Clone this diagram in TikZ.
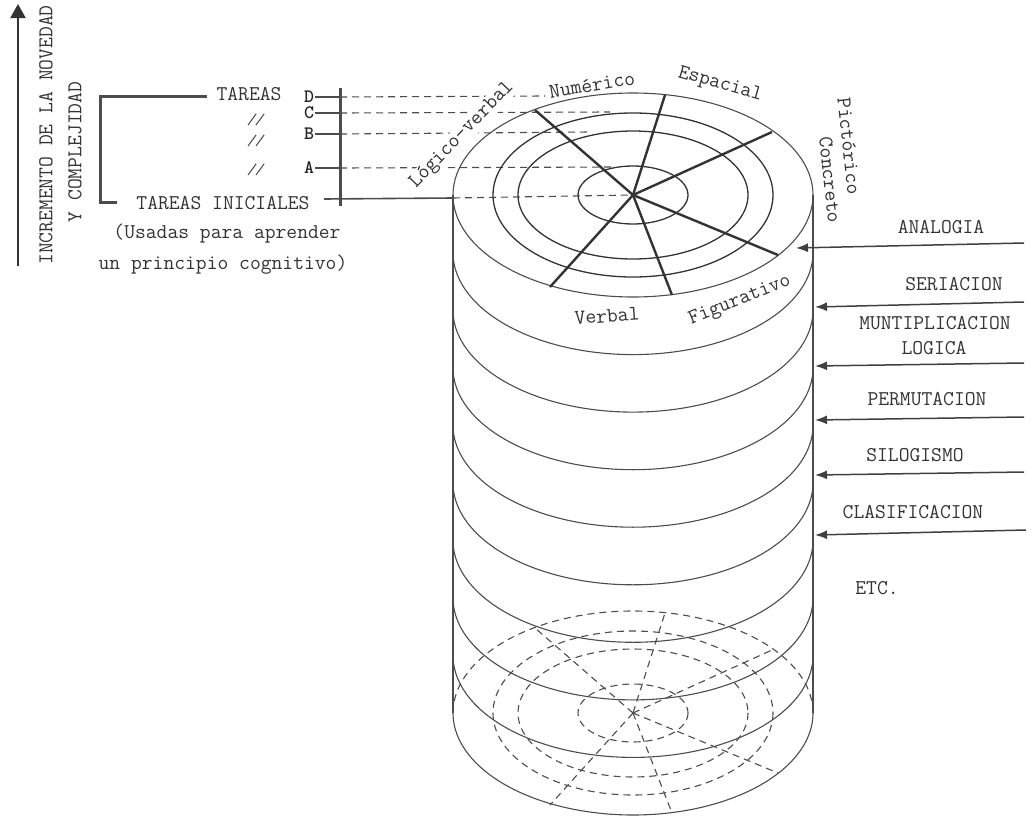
\documentclass[tikz,border=0pt]{standalone}
\usepackage{fontspec}
\usetikzlibrary{arrows.meta}
\begin{document}
\begin{tikzpicture}[x=1pt,y=-1pt,
  ln/.style={draw=black!70, line width=1.1pt},
  ring/.style={draw=black!80, line width=1.3pt},
  ray/.style={draw=black!80, line width=2.4pt},
  dsh/.style={draw=black!70, line width=1.1pt, dash pattern=on 7pt off 5pt},
  lbl/.style={font=\ttfamily\fontsize{21}{24}\selectfont, text=black!80, inner sep=1pt},
  let/.style={font=\ttfamily\bfseries\fontsize{19}{21}\selectfont, text=black!85, inner sep=1pt},
  dit/.style={font=\ttfamily\itshape\fontsize{15}{17}\selectfont, text=black!80, inner sep=1pt},
  arr/.style={draw=black!75, line width=1.5pt, -{Latex[length=12pt,width=9pt]}},
  bar/.style={draw=black!70, line width=3pt},
]
\useasboundingbox (0,0) rectangle (1031,822);

% ---- left axis ----
\coordinate (axB) at (18,266);
\coordinate (axT) at (18,4);
\draw[draw=black!80, line width=2pt, -{Triangle[length=14pt,width=15pt]}] (axB) -- (axT);
\node[lbl, rotate=90] (inc) at (46,135) {INCREMENTO DE LA NOVEDAD};
\node[lbl, rotate=90] (comp) at (75,152) {Y COMPLEJIDAD};

% ---- bracket and task labels ----
\node[lbl] (tareas) at (249,94) {TAREAS};
\node[lbl] (tini) at (223,203) {TAREAS INICIALES};
\node[lbl] (usadas) at (227,234) {(Usadas para aprender};
\node[lbl] (princ) at (223,265) {un principio cognitivo)};
\coordinate (brTR) at (207,96);
\coordinate (brTL) at (100,96);
\coordinate (brBL) at (100,202);
\coordinate (brBR) at (117,202);
\draw[bar] (brTR) -- (brTL) -- (brBL) -- (brBR);

\node[dit] (d1) at (255,120) {//};
\node[dit] (d2) at (255,141) {//};
\node[dit] (d3) at (255,170) {//};

\node[let] (lD) at (309,97) {D};
\node[let] (lC) at (309,113) {C};
\node[let] (lB) at (309,134) {B};
\node[let] (lA) at (309,168) {A};

\coordinate (vT) at (340,88);
\coordinate (vB) at (340,206);
\draw[bar] (vT) -- (vB);

\coordinate (ctr) at (633,195);
\coordinate (eD) at (545,96);
\coordinate (eC) at (610,112);
\coordinate (eB) at (590,132);
\coordinate (eA) at (615,167);
\coordinate (tiE) at (324,199);
\coordinate (eL) at (453,198);

\draw[ln, line width=1.4pt] (lD.east) -- (340,97);
\draw[ln, line width=1.4pt] (lC.east) -- (340,113);
\draw[ln, line width=1.4pt] (lB.east) -- (340,134);
\draw[ln, line width=1.4pt] (lA.east) -- (340,168);
\draw[dsh] (340,97) -- (eD);
\draw[dsh] (340,113) -- (eC);
\draw[dsh] (340,134) -- (eB);
\draw[dsh] (340,168) -- (eA);
\draw[ln, line width=1.6pt] (tiE) -- (eL);
\draw[dsh] (eL) -- (ctr);

\node[lbl, rotate=46, fill=white] (logv) at (462,135) {Lógico-verbal};

% ---- bottom hidden grid (dashed) ----
\begin{scope}[shift={(0,518)}]
  \coordinate (bc) at (633,195);
  \draw[dsh] plot[domain=180:360, samples=90, smooth] ({633+180*cos(\x)},{195+102*sin(\x)});
  \draw[dsh] (bc) ellipse [x radius=140, y radius=82];
  \draw[dsh] (bc) ellipse [x radius=115, y radius=64];
  \draw[dsh] (bc) ellipse [x radius=55, y radius=29];
  \foreach \p in {(535,110),(665,95),(772,132),(778,255),(672,295),(550,287)}
    \draw[dsh] (bc) -- \p;
\end{scope}

% ---- cylinder body ----
\coordinate (sLT) at (453,195);
\coordinate (sLB) at (453,713);
\coordinate (sRT) at (813,195);
\coordinate (sRB) at (813,713);
\draw[ln] (sLT) -- (sLB);
\draw[ln] (sRT) -- (sRB);
\foreach \c in {252.6,310.1,367.7,425.2,482.8,540.3,597.9,655.4,713}
  \draw[ln] plot[domain=0:180, samples=90, smooth] ({633+180*cos(\x)},{\c+102*sin(\x)});

% ---- top disk ----
\draw[ln] (ctr) ellipse [x radius=180, y radius=102];
\draw[ring] (ctr) ellipse [x radius=140, y radius=82];
\draw[ring] (ctr) ellipse [x radius=115, y radius=64];
\draw[ring] (ctr) ellipse [x radius=55, y radius=29];
\coordinate (r1) at (535,110);
\coordinate (r2) at (665,95);
\coordinate (r3) at (772,132);
\coordinate (r4) at (778,255);
\coordinate (r5) at (672,295);
\coordinate (r6) at (550,287);
\foreach \r in {r1,r2,r3,r4,r5,r6}
  \draw[ray] (ctr) -- (\r);

\node[lbl, rotate=9.5] (num) at (592,85) {Numérico};
\node[lbl, rotate=-16] (esp) at (720,85) {Espacial};
\node[lbl, rotate=-84] (pic) at (849,146) {Pictórico};
\node[lbl, rotate=-84] (con) at (830,180) {Concreto};
\node[lbl, rotate=4] (verb) at (607,316) {Verbal};
\node[lbl, rotate=22] (fig) at (740,301) {Figurativo};

% ---- right labels and arrows ----
\node[lbl] (ana) at (941,227) {ANALOGIA};
\node[lbl] (ser) at (954,284) {SERIACION};
\node[lbl] (mun) at (935,323) {MUNTIPLICACION};
\node[lbl] (log) at (934,348) {LOGICA};
\node[lbl] (per) at (927,399) {PERMUTACION};
\node[lbl] (sil) at (915,455) {SILOGISMO};
\node[lbl] (cla) at (913,512) {CLASIFICACION};
\node[lbl] (etc) at (877,588) {ETC.};

\coordinate (a1s) at (1024,243); \coordinate (a1e) at (796,248);
\coordinate (a2s) at (1024,302); \coordinate (a2e) at (815,307);
\coordinate (a3s) at (1024,363); \coordinate (a3e) at (815,366);
\coordinate (a4s) at (1024,417); \coordinate (a4e) at (815,420);
\coordinate (a5s) at (1024,472); \coordinate (a5e) at (815,475);
\coordinate (a6s) at (1026,530); \coordinate (a6e) at (815,535);
\foreach \i in {1,...,6}
  \draw[arr] (a\i s) -- (a\i e);
\end{tikzpicture}
\end{document}
